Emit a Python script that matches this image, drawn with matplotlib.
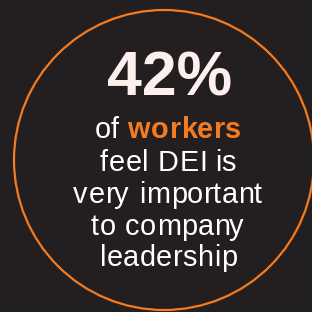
import matplotlib.pyplot as plt
from matplotlib.patches import Circle
from matplotlib import font_manager
from matplotlib.ft2font import FT2Font, LoadFlags

# stat content
percent = 42
lead_word = "of "
highlight_word = "workers"
body_lines = ["feel DEI is", "very important", "to company", "leadership"]

bg_color = "#231f20"
orange = "#f47b20"
big_color = "#fcefed"
text_color = "#ffffff"

family = 'Liberation Sans'
plt.rcParams['font.family'] = [family, 'DejaVu Sans']

DPI = 100
body_pt = 20.8
track = 0.35  # extra px between letters


def get_font(weight):
    path = font_manager.findfont(font_manager.FontProperties(family=family, weight=weight))
    f = FT2Font(path, hinting_factor=1)
    f.set_size(body_pt, DPI)
    return f


fonts = {'normal': get_font('normal'), 'bold': get_font('bold')}


def advance(ch, weight):
    g = fonts[weight].load_char(ord(ch), flags=LoadFlags.NO_HINTING)
    return g.linearHoriAdvance / 65536, g.horiBearingX / 64


def tracked_line(ax, xc, y, parts):
    # parts: list of (string, weight, color)
    chars = [(c, w, col) for s, w, col in parts for c in s]
    total = sum(advance(c, w)[0] for c, w, _ in chars) + track * (len(chars) - 1)
    x = xc - total / 2
    for c, w, col in chars:
        adv, bx = advance(c, w)
        if c != " ":
            ax.text(x + bx, y, c, fontsize=body_pt, fontweight=w, color=col,
                    ha='left', va='baseline')
        x += adv + track


fig = plt.figure(figsize=(3.12, 3.12), dpi=DPI, facecolor=bg_color)
ax = fig.add_axes([0, 0, 1, 1])
ax.set_facecolor(bg_color)
ax.set_xlim(0, 312)
ax.set_ylim(312, 0)
ax.axis('off')

ax.add_patch(Circle((164, 160), 150, fill=False, edgecolor=orange, linewidth=1.6))

ax.text(170, 95, f"{percent}%", fontsize=45, fontweight='bold', color=big_color,
        ha='center', va='baseline')

cx = 167
tracked_line(ax, cx, 138, [(lead_word, 'normal', text_color),
                           (highlight_word, 'bold', orange)])
for i, line in enumerate(body_lines):
    tracked_line(ax, cx, 171 + 31.8 * i, [(line, 'normal', text_color)])

fig.savefig("out.png", dpi=DPI, facecolor=bg_color)
